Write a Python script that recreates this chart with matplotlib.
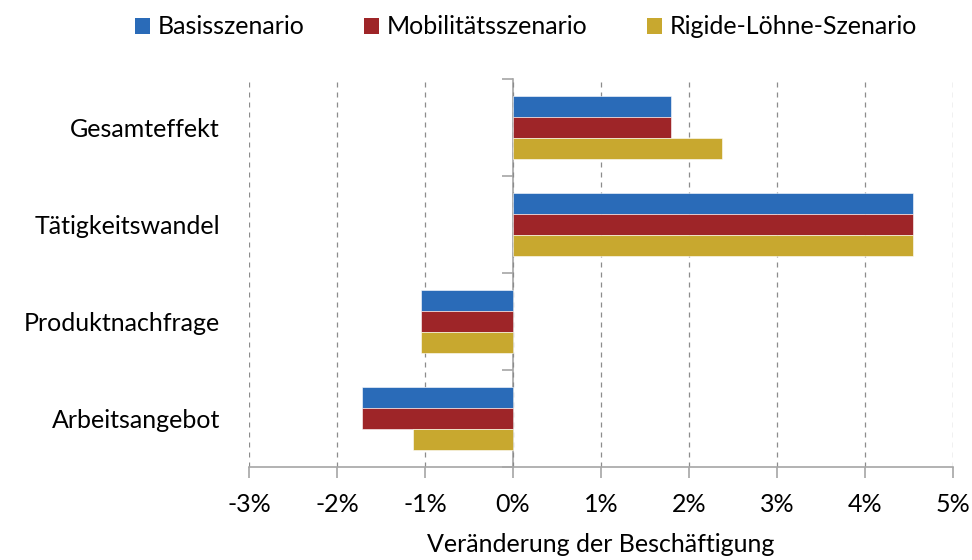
import matplotlib
matplotlib.use("Agg")
import matplotlib.pyplot as plt
import numpy as np
from matplotlib.patches import Patch
from matplotlib.ticker import FuncFormatter, FixedLocator

plt.rcParams['font.family'] = ['Lato', 'DejaVu Sans']

categories = ["Gesamteffekt", "Tätigkeitswandel", "Produktnachfrage", "Arbeitsangebot"]
series_names = ["Basisszenario", "Mobilitätsszenario", "Rigide-Löhne-Szenario"]
basis = [1.80, 4.55, -1.05, -1.72]
mobilitaet = [1.80, 4.55, -1.05, -1.72]
rigide = [2.38, 4.55, -1.05, -1.14]
colors = ["#2A6BB8", "#9E2528", "#C8A82F"]
x_ticks = [-3, -2, -1, 0, 1, 2, 3, 4, 5]

FS = 18

fig = plt.figure(figsize=(9.72, 5.6), dpi=100)
ax = fig.add_axes([249 / 972, 1 - 467 / 560, (953 - 249) / 972, (467 - 79) / 560])

n = len(categories)
pos = np.arange(n)[::-1].astype(float)  # top category first
bar_h = 0.218
for i, (vals, col) in enumerate(zip([basis, mobilitaet, rigide], colors)):
    ax.barh(pos + bar_h * (1 - i), vals, height=bar_h, color=col,
            edgecolor="white", linewidth=0.4, zorder=3)

ax.set_xlim(-3, 5)
ax.set_ylim(-0.5, n - 0.5)
ax.xaxis.set_major_locator(FixedLocator(x_ticks))
ax.xaxis.set_major_formatter(FuncFormatter(lambda v, p: f"{v:.0f}%"))
ax.grid(axis="x", color="#8C8C8C", linestyle=(0, (4, 4)), linewidth=0.9, zorder=0)

for s in ["top", "right", "left"]:
    ax.spines[s].set_visible(False)
ax.spines["bottom"].set_color("#A6A6A6")
ax.spines["bottom"].set_linewidth(1.2)
ax.tick_params(axis="x", length=8, width=1.2, color="#A6A6A6", labelsize=FS,
               pad=11, labelcolor="black")

ax.set_yticks(pos)
ax.set_yticklabels(categories)
ax.tick_params(axis="y", length=0, labelsize=FS, pad=21)

# category axis drawn at zero, with ticks between categories
zero_loc = (0 - ax.get_xlim()[0]) / (ax.get_xlim()[1] - ax.get_xlim()[0])
sec = ax.secondary_yaxis(zero_loc)
sec.set_yticks(np.arange(n + 1) - 0.5)
sec.set_yticklabels([])
sec.spines["left"].set_color("#A6A6A6")
sec.spines["left"].set_linewidth(1.2)
sec.tick_params(axis="y", length=8, width=1.2, color="#A6A6A6", direction="out")

ax.set_xlabel("Veränderung der Beschäftigung", fontsize=FS, labelpad=12)

handles = [Patch(facecolor=c, edgecolor="none") for c in colors]
fig.legend(handles, series_names, loc="center", bbox_to_anchor=(526 / 972, 1 - 27 / 560),
           ncol=3, frameon=False, fontsize=FS, handlelength=0.6, handleheight=0.6,
           handletextpad=0.3, columnspacing=2.4)

fig.savefig("out.png", dpi=100)
